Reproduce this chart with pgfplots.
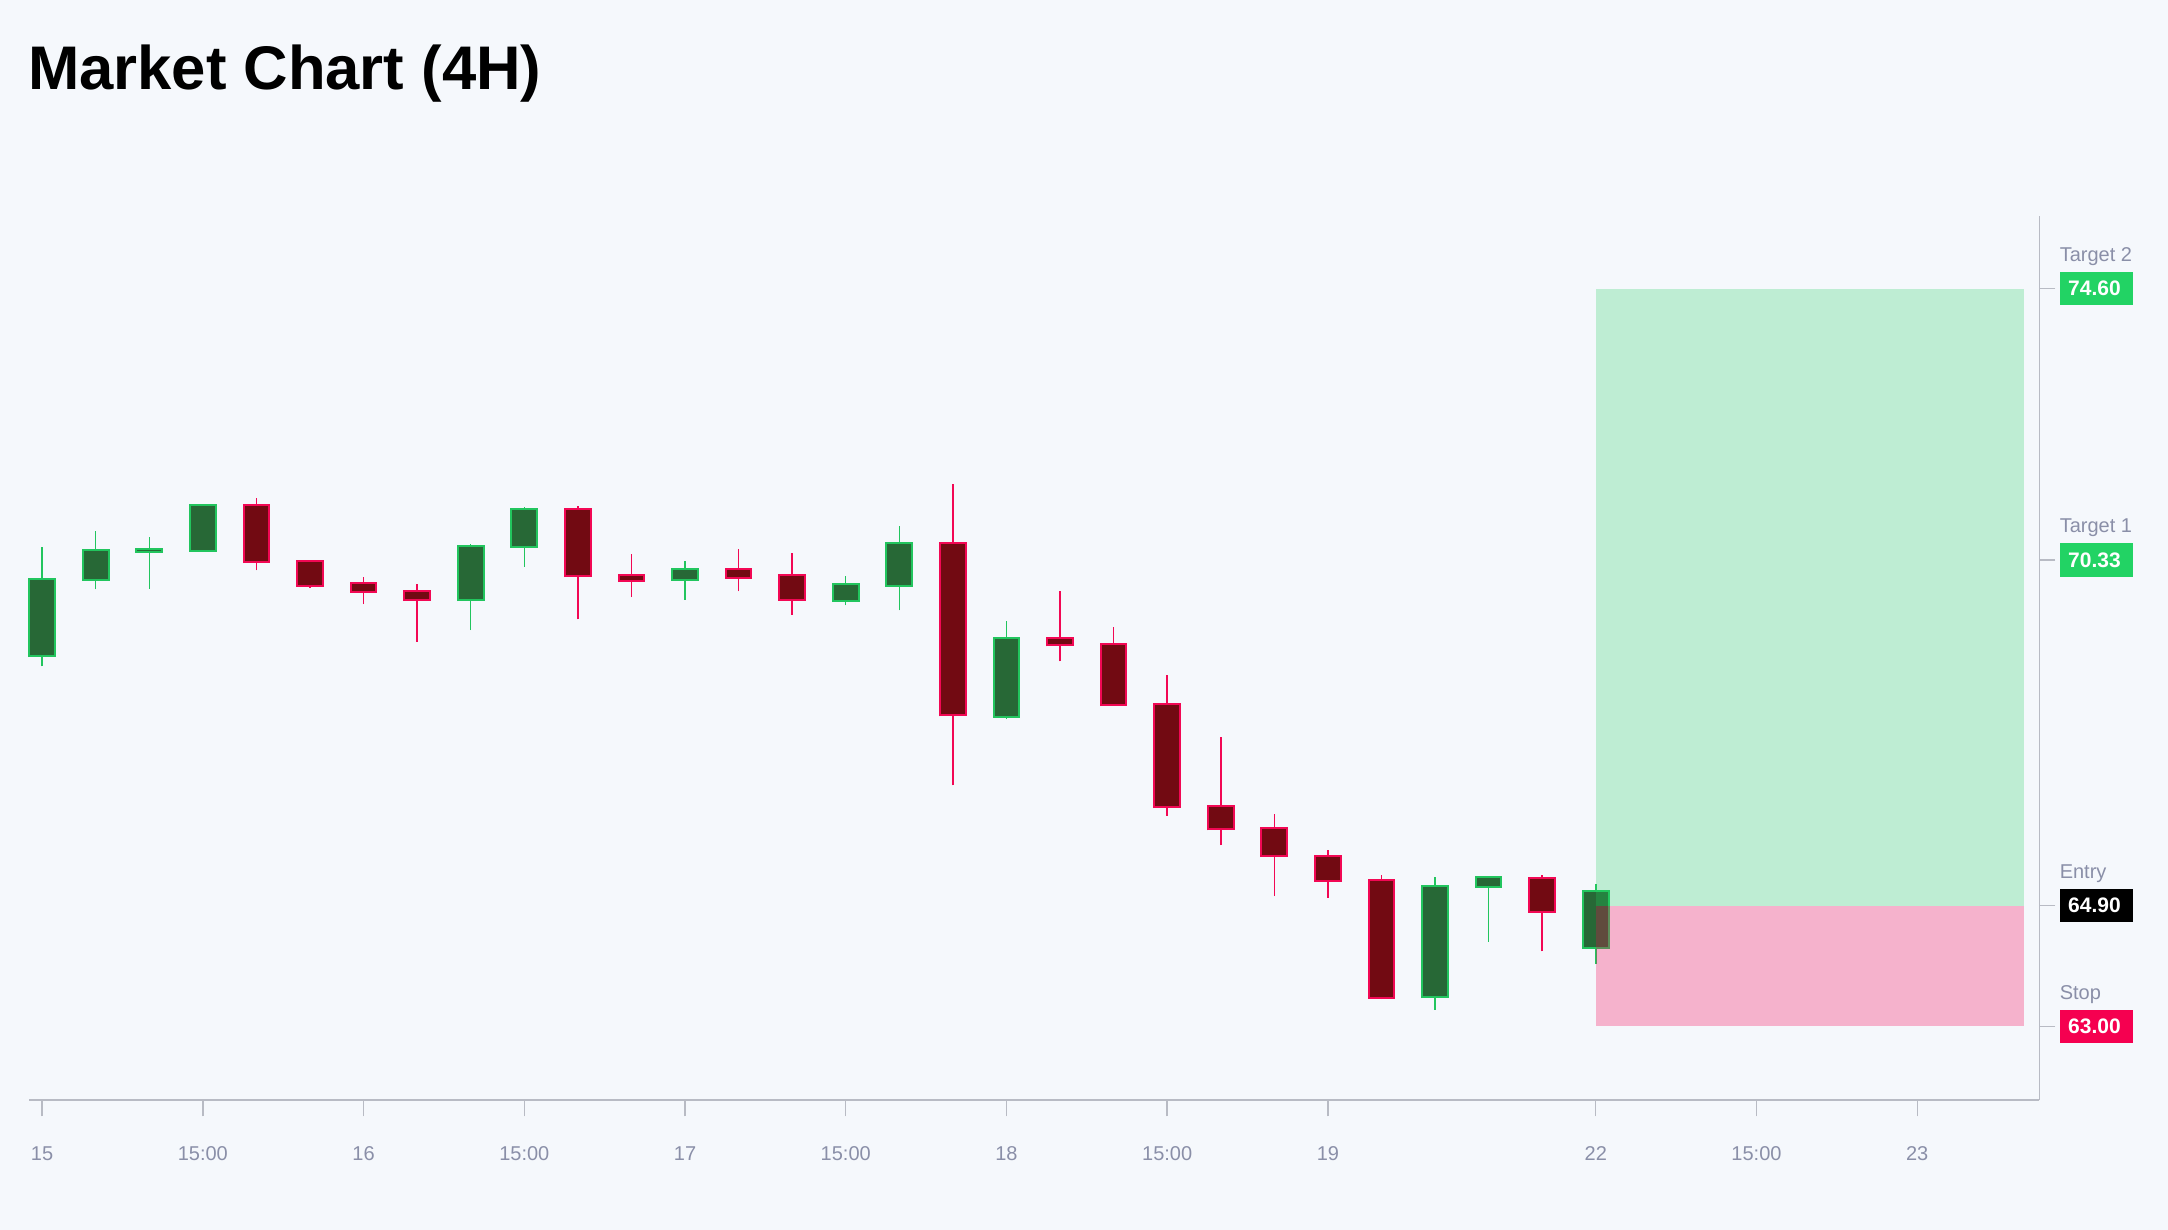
\documentclass[border=0pt]{standalone}
\usepackage{fontspec}
\setmainfont{Liberation Sans}
\usepackage{pgfplots}
\usepackage{pgfplotstable}
\pgfplotsset{compat=1.18}

\definecolor{bg}{RGB}{245,248,252}
\definecolor{upline}{RGB}{34,197,94}
\definecolor{upfill}{RGB}{39,104,54}
\definecolor{dnline}{RGB}{242,8,84}
\definecolor{dnfill}{RGB}{114,10,18}
\definecolor{axisgray}{RGB}{184,187,196}
\definecolor{txtgray}{RGB}{138,143,168}
\definecolor{lblgreen}{RGB}{34,211,100}
\definecolor{lblred}{RGB}{245,0,80}
\definecolor{zonegreen}{RGB}{34,209,96}

% rising candles: x open high low close
\pgfplotstableread{
x open high low close
0 68.82 70.53 68.66 70.04
1 70.02 70.79 69.87 70.49
2 70.46 70.69 69.88 70.50
3 70.48 71.21 70.47 71.20
8 69.70 70.58 69.23 70.55
9 70.54 71.16 70.23 71.14
12 70.02 70.31 69.71 70.19
15 69.69 70.08 69.62 69.95
16 69.93 70.86 69.54 70.60
18 67.87 69.37 67.83 69.11
26 63.46 65.35 63.26 65.21
27 65.19 65.37 64.33 65.35
29 64.23 65.24 63.98 65.13
}\upTbl

% falling candles: x open high low close
\pgfplotstableread{
x open high low close
4 71.20 71.31 70.17 70.30
5 70.32 70.33 69.89 69.93
6 69.97 70.06 69.64 69.83
7 69.84 69.96 69.05 69.70
10 71.14 71.18 69.40 70.08
11 70.10 70.42 69.75 70.00
13 70.19 70.51 69.84 70.05
14 70.10 70.44 69.47 69.71
17 70.60 71.53 66.79 67.89
19 69.11 69.84 68.74 68.99
20 69.01 69.28 68.04 68.05
21 68.07 68.53 66.31 66.45
22 66.46 67.55 65.85 66.10
23 66.12 66.34 65.05 65.68
24 65.68 65.78 65.02 65.29
25 65.31 65.38 63.43 63.45
28 65.34 65.38 64.18 64.80
}\dnTbl

% candle parts drawn as one-directional error bars (butt caps give exact rectangles)
% half an outline (0.5pt) in data units: 13.9 units over 442.15pt
\def\hw{0.0157}
\pgfplotsset{
  vbar/.style 2 args={draw=none, no markers, forget plot,
    error bars/.cd, y dir=plus, y explicit, error mark=none,
    error bar style={draw=#1, line width=#2, line cap=butt}},
}

\newcommand\levellabel[4]{%
  \node[anchor=west, xshift=10pt, fill=#4, text=white, font=\fontsize{10.5}{12}\selectfont\bfseries,
        minimum height=16.75pt, text width=28.1pt, inner xsep=4.2pt, inner ysep=0pt, align=left]
        at (axis cs:37.28,#1) {#3};
  \node[anchor=base west, xshift=10pt, yshift=13.6pt, inner sep=0pt, text=txtgray,
        font=\fontsize{10}{12}\selectfont] at (axis cs:37.28,#1) {#2};
}

\begin{document}
\begin{tikzpicture}
\fill[bg] (0,0) rectangle (1084pt,615pt);
\useasboundingbox (0,0) rectangle (1084pt,615pt);
\node[anchor=base west, inner sep=0, font=\fontsize{30.8}{36}\selectfont\bfseries] at (13.8pt,570pt) {Market Chart (4H)};
\begin{axis}[
  at={(14.55pt,64.85pt)}, anchor=south west,
  width=1005.15pt, height=442.15pt, scale only axis,
  xmin=-0.243, xmax=37.28, ymin=61.84, ymax=75.74,
  axis x line*=bottom, axis y line*=right,
  axis line style={draw=axisgray, line width=0.85pt},
  tick align=outside, major tick length=8pt,
  tick style={draw=axisgray, line width=0.7pt},
  xtick={0,3,6,9,12,15,18,21,24,29,32,35},
  xticklabels={15,15:00,16,15:00,17,15:00,18,15:00,19,22,15:00,23},
  xticklabel style={text=txtgray, font=\fontsize{10}{12}\selectfont, yshift=-11.75pt},
  ytick={63,64.9,70.33,74.6},
  yticklabels={},
  clip=false,
]
% wicks
\addplot[vbar={upline}{0.75pt}] table[x=x, y=low, y error expr=\thisrow{high}-\thisrow{low}] {\upTbl};
\addplot[vbar={dnline}{0.75pt}] table[x=x, y=low, y error expr=\thisrow{high}-\thisrow{low}] {\dnTbl};
% body outlines
\addplot[vbar={upline}{13.86pt}] table[x=x, y expr=\thisrow{open}-\hw, y error expr=\thisrow{close}-\thisrow{open}+2*\hw] {\upTbl};
\addplot[vbar={dnline}{13.86pt}] table[x=x, y expr=\thisrow{close}-\hw, y error expr=\thisrow{open}-\thisrow{close}+2*\hw] {\dnTbl};
% body fills
\addplot[vbar={upfill}{11.86pt}] table[x=x, y expr=\thisrow{open}+\hw, y error expr={max(\thisrow{close}-\thisrow{open}-2*\hw,0)}] {\upTbl};
\addplot[vbar={dnfill}{11.86pt}] table[x=x, y expr=\thisrow{close}+\hw, y error expr={max(\thisrow{open}-\thisrow{close}-2*\hw,0)}] {\dnTbl};
% trade zones
\addplot[draw=none, fill=zonegreen, fill opacity=0.26] coordinates {(29,64.9) (37,64.9) (37,74.6) (29,74.6)};
\addplot[draw=none, fill=lblred, fill opacity=0.28] coordinates {(29,63) (37,63) (37,64.9) (29,64.9)};
% level labels
\levellabel{74.6}{Target 2}{74.60}{lblgreen}
\levellabel{70.33}{Target 1}{70.33}{lblgreen}
\levellabel{64.9}{Entry}{64.90}{black}
\levellabel{63}{Stop}{63.00}{lblred}
\end{axis}
\end{tikzpicture}
\end{document}
